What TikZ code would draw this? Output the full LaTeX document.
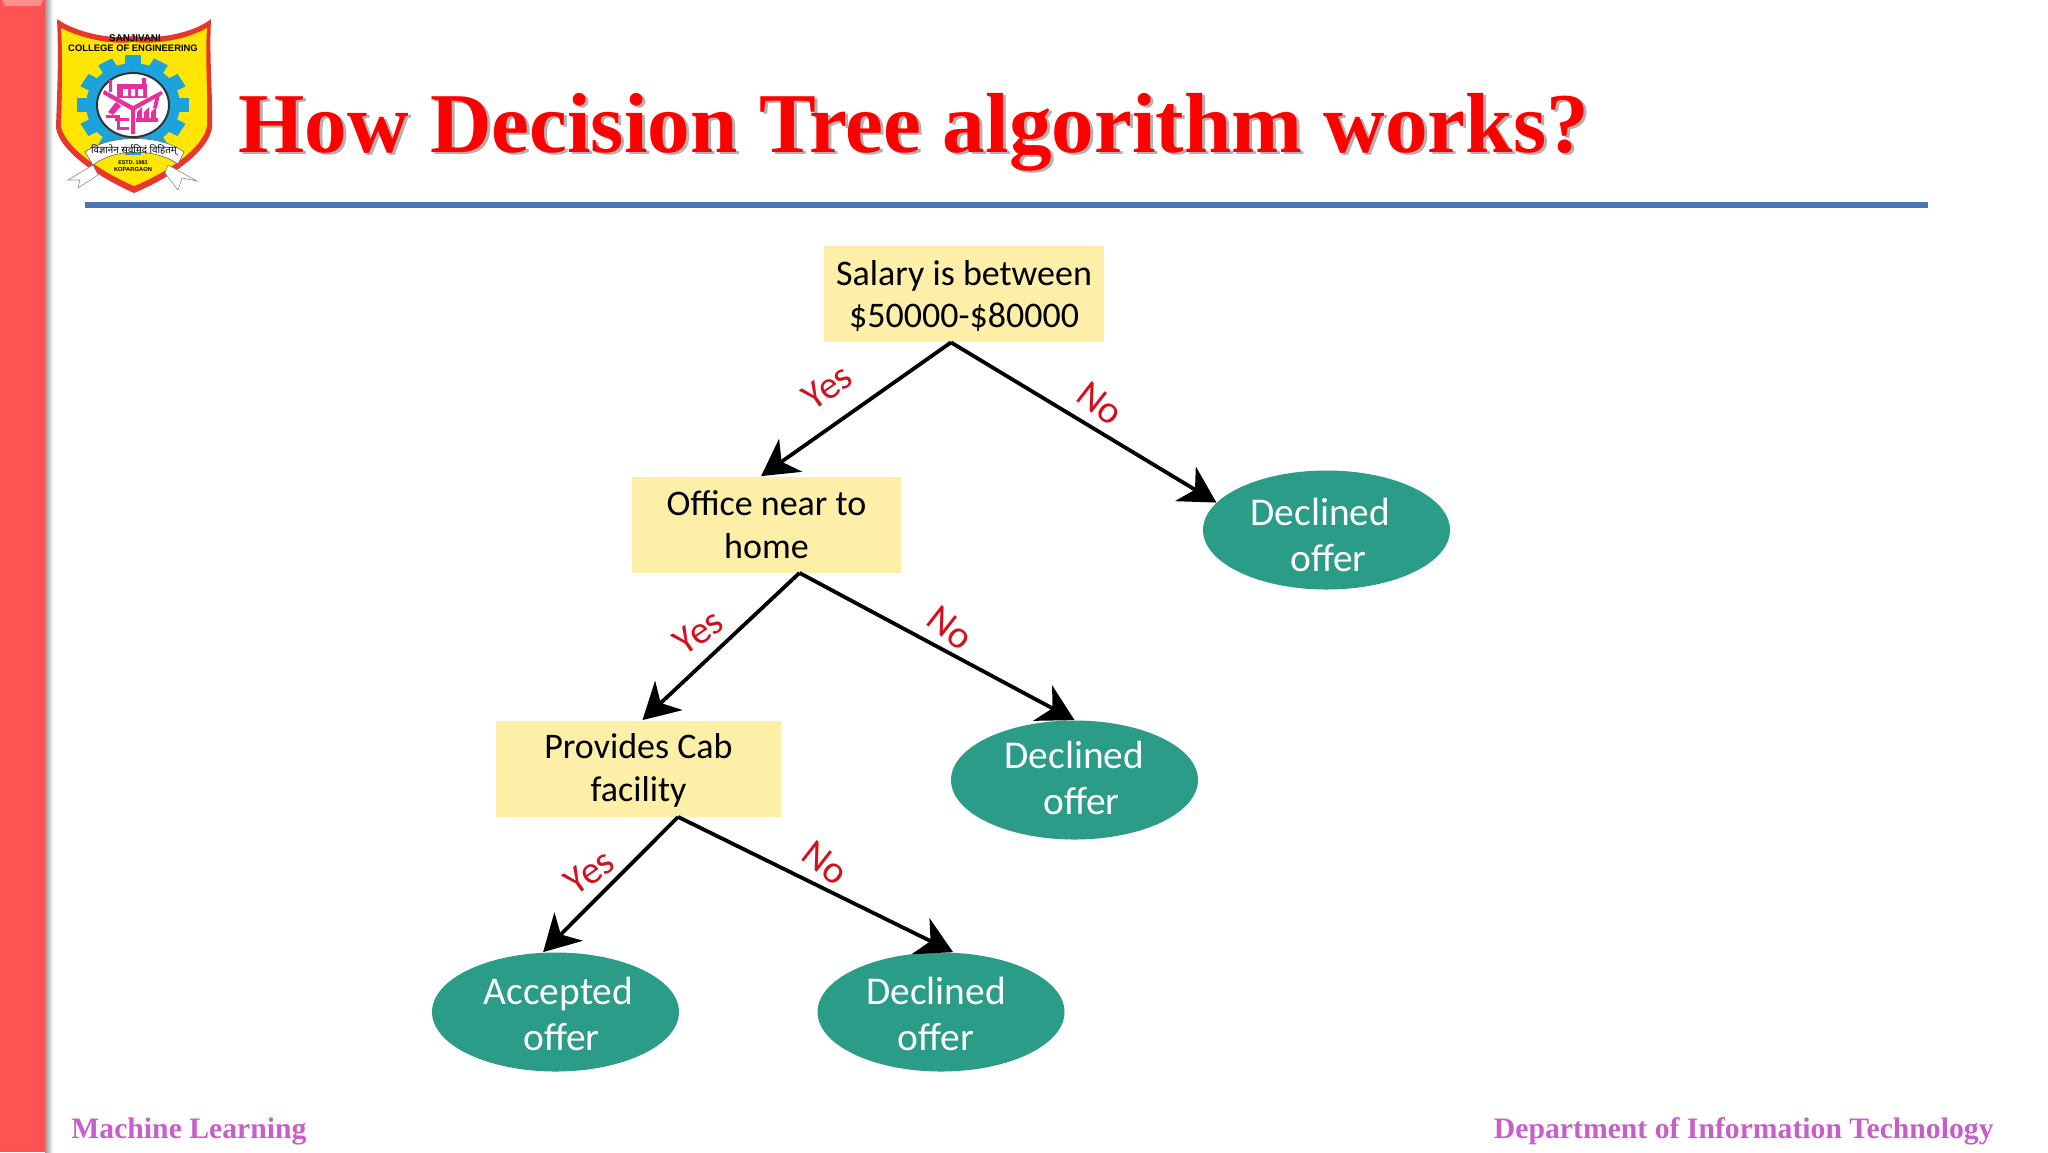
\documentclass[tikz,border=0pt]{standalone}
\usepackage{fontspec}
\usetikzlibrary{arrows.meta,shapes.geometric,calc}
\setmainfont{Liberation Serif}
\newfontfamily\diagfont{Carlito}
\newfontfamily\logofont{Liberation Sans}
\newfontfamily\devfont[Script=Devanagari]{Noto Sans}
\definecolor{barred}{HTML}{FF5353}
\definecolor{rulebl}{HTML}{4A76B8}
\definecolor{boxy}{HTML}{FDEFA8}
\definecolor{teal}{HTML}{2B9C87}
\definecolor{labred}{HTML}{D4101E}
\definecolor{footpk}{HTML}{C65FC9}
\definecolor{logored}{HTML}{E8362C}
\definecolor{logoyel}{HTML}{FFE600}
\definecolor{logoblu}{HTML}{1CA3DC}
\definecolor{logomag}{HTML}{E8309A}
\tikzset{
  decbox/.style={fill=boxy,minimum width=#1*0.5pt,minimum height=48pt,inner sep=0pt,align=center,font=\diagfont\fontsize{18}{21.3}\selectfont,text=black},
  leaf/.style={ellipse,fill=teal,minimum width=123.5pt,minimum height=59.5pt,inner sep=0pt,align=center,font=\diagfont\fontsize{19.7}{23}\selectfont,text=white},
  conn/.style={line width=1.9pt,black,-{Stealth[length=18pt,width=20pt,inset=5.5pt]}},
  yn/.style={text=labred,font=\diagfont\fontsize{19.5}{22}\selectfont,inner sep=0pt},
  foot/.style={text=footpk,font=\bfseries\fontsize{14.85}{17}\selectfont,inner sep=0pt},
  ttl/.style={anchor=west,inner sep=0pt,font=\bfseries\fontsize{42.6}{50}\selectfont},
}
\begin{document}
\begin{tikzpicture}[x=0.5pt,y=-0.5pt]
\useasboundingbox (0,0) rectangle (2048,1152);
\fill[white] (0,0) rectangle (2048,1152);
% side bar
\shade[left color=black!40,right color=white] (45,0) rectangle (53,1152);
\fill[barred] (0,0) rectangle (45,1152);
\fill[barred!65!white] (2,0) -- (43,0) -- (40,6) -- (5,6) -- cycle;
% title rule
\fill[rulebl] (85,202) rectangle (1928,208);
% title
\node[ttl,text=black!30] at (241,134.5) {How Decision Tree algorithm works?};
\node[ttl,text=red] (title) at (238,132) {How Decision Tree algorithm works?};
% logo
\path[fill=logored] (57,19) .. controls (75,32) and (110,40) .. (133,36) .. controls (160,40) and (195,32) .. (211,19) .. controls (209,60) and (213,95) .. (212,128) .. controls (208,152) and (170,178) .. (134,193) .. controls (100,178) and (60,152) .. (56,128) .. controls (57,95) and (59,60) .. (57,19) -- cycle;
\path[fill=logoyel] (61,28) .. controls (80,38) and (110,45) .. (133,42) .. controls (160,45) and (190,38) .. (207,28) .. controls (205,60) and (208,95) .. (207,126) .. controls (203,148) and (168,172) .. (134,186) .. controls (102,172) and (65,148) .. (61,126) .. controls (62,95) and (63,60) .. (61,28) -- cycle;
\node[inner sep=0pt,font=\logofont\bfseries\fontsize{4.9}{5}\selectfont] (lg1) at (135,38.5) {SANJIVANI};
\node[inner sep=0pt,font=\logofont\bfseries\fontsize{4.7}{5}\selectfont] (lg2) at (133,48) {COLLEGE OF ENGINEERING};
\begin{scope}[shift={(133,105)},yscale=0.89]
\foreach \a in {0,30,...,330}{
  \fill[logoblu,rotate=\a] (-8,-56) rectangle (8,-42);
}
\fill[logoblu] (0,0) circle (47);
\fill[white,draw=black!80,line width=1pt] (0,0) circle (36);
\end{scope}
\begin{scope}[logomag]
\fill (117,84) rectangle (147,98);
\fill (109,80) rectangle (112,92) (142,78) rectangle (146,84);
\fill[white] (123,89) rectangle (128,96) (131,89) rectangle (135,96) (138,89) rectangle (143,96);
\fill (133,106) -- (104,90) -- (103,94) -- (131,110) -- (131,134) -- (135,134) -- (135,110) -- (163,94) -- (161,91) -- cycle;
\fill (136,118) rectangle (158,122);
\fill (137,112) -- (142,107) -- (142,118) -- (137,118) -- cycle;
\fill (144,112) -- (149,107) -- (149,118) -- (144,118) -- cycle;
\fill (151,112) -- (156,107) -- (156,118) -- (151,118) -- cycle;
\fill (153,108) -- (156,94) -- (160,94) -- (157,108) -- cycle;
\fill (108,112) -- (116,102) -- (121,106) -- (113,115) -- cycle;
\fill (106,115) rectangle (120,118);
\fill (115,118) rectangle (129,121);
\fill (117,121) rectangle (120,129);
\fill (117,127) rectangle (129,130);
\end{scope}
\path[fill=white,draw=black!45,line width=0.3pt] (68,180) -- (93,165) -- (98,175) -- (78,188) -- (80,180) -- cycle;
\path[fill=white,draw=black!45,line width=0.3pt] (168,165) -- (197,181) -- (182,178) -- (178,190) -- (165,173) -- cycle;
\path[fill=white,draw=black!60,line width=0.3pt] (85,152) .. controls (110,134) and (160,134) .. (184,152) -- (178,164) .. controls (155,148) and (115,148) .. (93,165) -- cycle;
\node[inner sep=0pt,font=\devfont\fontsize{4.9}{5}\selectfont] (lg3) at (134,150) {विज्ञानेन सर्वमिदं विहितम्};
\node[inner sep=0pt,font=\logofont\bfseries\fontsize{2.7}{3}\selectfont] (lg4) at (133,163) {ESTD. 1983};
\node[inner sep=0pt,font=\logofont\bfseries\fontsize{2.9}{3}\selectfont] (lg5) at (133,169) {KOPARGAON};
% nodes
\node[decbox=280] (sal) at (964,294) {\rule{0pt}{14.6pt}Salary is between\\\$50000-\$80000};
\node[decbox=269] (off) at (766.5,524.5) {Office near to\\home};
\node[decbox=285] (cab) at (638.5,768.5) {\rule{0pt}{14.6pt}Provides Cab\\facility};
\node[leaf] (d1) at (1326.5,530) {\rule{0pt}{18.4pt}Declined\hspace*{6pt}\\\hspace*{2pt}offer};
\node[leaf] (d2) at (1074.5,780) {Declined\\\rule[-2pt]{0pt}{0pt}\hspace*{7pt}offer};
\node[leaf] (acc) at (555.5,1012) {\rule{0pt}{15.7pt}\hspace*{3pt}Accepted\\\hspace*{6pt}offer};
\node[leaf] (d3) at (941,1012) {\rule{0pt}{15.7pt}Declined\hspace*{5pt}\\offer\hspace*{5pt}};
% connectors
\draw[conn] ([xshift=-6.5pt]sal.south) -- ([xshift=-2.7pt]off.north);
\draw[conn] ([xshift=-6.5pt]sal.south) -- (d1.166);
\draw[conn] ([xshift=16.5pt]off.south) -- ([xshift=2pt]cab.north);
\draw[conn] ([xshift=16.5pt]off.south) -- (d2.north);
\draw[conn] ([xshift=19.8pt]cab.south) -- ([xshift=-6.2pt]acc.north);
\draw[conn] ([xshift=19.8pt]cab.south) -- ([xshift=6pt]d3.north);
% labels
\node[yn,rotate=35] (y1) at (827.5,387) {Yes};
\node[yn,rotate=-38] (n1) at (1100.5,403.5) {No};
\node[yn,rotate=35] (y2) at (698.5,632) {Yes};
\node[yn,rotate=-38] (n2) at (950.5,628) {No};
\node[yn,rotate=35] (y3) at (589.5,872) {Yes};
\node[yn,rotate=-38] (n3) at (825,863) {No};
% footer
\node[foot,anchor=west] (fl) at (71,1131) {Machine Learning};
\node[foot,anchor=east] (fr) at (1994,1131) {Department of Information Technology};
\end{tikzpicture}
\end{document}
